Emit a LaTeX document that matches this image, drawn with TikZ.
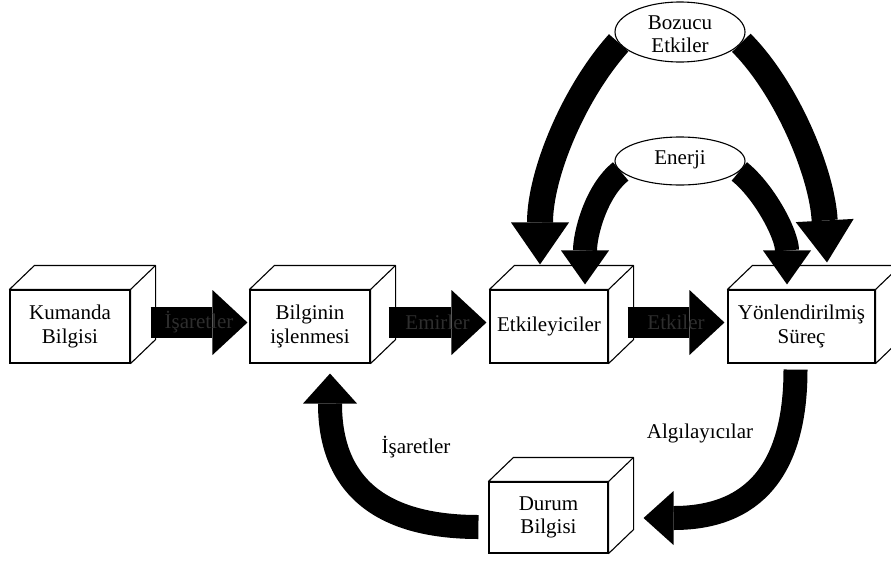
\documentclass[tikz,border=0pt]{standalone}
\usepackage{fontspec}
\setmainfont{Liberation Serif}
\usetikzlibrary{arrows.meta,shapes.geometric}
\pgfdeclarelayer{boxlayer}
\pgfdeclarelayer{arrowlayer}
\pgfsetlayers{boxlayer,arrowlayer,main}
\tikzset{
  boxfront/.style={draw, fill=white, line width=1.1pt, inner sep=0pt, align=center,
    font=\fontsize{21}{23.5}\selectfont, minimum height=73pt},
  boxside/.style={draw, fill=white, line width=1.1pt, line join=round},
  oval/.style={draw, ellipse, fill=white, line width=1.1pt, inner sep=0pt},
  lbl/.style={font=\fontsize{21}{23.5}\selectfont, align=center, inner sep=0pt},
  hlbl/.style={font=\fontsize{21}{23.5}\selectfont, inner sep=0pt, text=black!82},
  harrow/.style={draw=black, line width=31pt, -{Triangle[width=65pt,length=35pt,line width=0pt]}},
  barrow/.style={draw=black, line width=26pt, -{Triangle[width=58pt,length=42pt,line width=0pt]}},
  earrow/.style={draw=black, line width=24pt, -{Triangle[width=48pt,length=34pt,line width=0pt]}},
  larrow/.style={draw=black, line width=24pt, -{Triangle[width=54pt,length=30pt,line width=0pt]}}
}
\begin{document}
\begin{tikzpicture}[x=1pt,y=-1pt]
\useasboundingbox (0,0) rectangle (891,563);

\begin{pgfonlayer}{boxlayer}
\fill[white] (0,0) rectangle (891,563);
\node[boxfront, minimum width=120pt] (kb) at (70,326.5) {Kumanda\\Bilgisi};
\node[boxfront, minimum width=120pt] (bi) at (310,326.5) {Bilginin\\işlenmesi};
\node[boxfront, minimum width=118pt] (et) at (549,326.5) {Etkileyiciler};
\node[boxfront, minimum width=147pt] (ys) at (801.5,326.5) {Yönlendirilmiş\\Süreç};
\node[boxfront, minimum width=119pt, minimum height=71pt] (db) at (548.5,517.5) {Durum\\Bilgisi};
\foreach \n in {kb,bi,et,ys,db}{
  \draw[boxside] (\n.north west) -- ([shift={(25,-24)}]\n.north west)
     -- ([shift={(25,-24)}]\n.north east) -- ([shift={(25,-24)}]\n.south east)
     -- (\n.south east) -- (\n.north east) -- cycle;
  \draw[boxside] (\n.north east) -- ([shift={(25,-24)}]\n.north east);
}
\end{pgfonlayer}

\node[oval, minimum width=130pt, minimum height=60pt] (bz) at (680,32) {};
\node[lbl] (bzt) at (680,34) {Bozucu\\Etkiler};
\node[oval, minimum width=130pt, minimum height=48pt] (en) at (680,161) {};
\node[lbl] (ent) at (680,160) {Enerji};

\coordinate (t1) at ([shift={(-9,-25)}]et.north);
\coordinate (t2) at ([shift={(36,-5)}]et.north);
\coordinate (t3) at ([shift={(-14.5,-5)}]ys.north);
\coordinate (t4) at ([shift={(25.5,-27)}]ys.north);
\coordinate (t5) at ([shift={(35,0.5)}]db.east);
\coordinate (t6) at ([shift={(20,10)}]bi.south);
\coordinate (s5) at ([shift={(-6,6)}]ys.south);
\coordinate (s6) at ([shift={(-10,9.5)}]db.west);

\begin{pgfonlayer}{arrowlayer}
\draw[harrow] ([shift={(20,-4)}]kb.east) -- node[hlbl] (h1) {İşaretler} ([shift={(-2,-4)}]bi.west);
\draw[harrow] ([shift={(18,-4)}]bi.east) -- node[hlbl] (h2) {Emirler} ([shift={(-3,-4)}]et.west);
\draw[harrow] ([shift={(19,-4)}]et.east) -- node[hlbl] (h3) {Etkiler} ([shift={(-3,-4)}]ys.west);

\draw[barrow] (bz.190) .. controls +(-45,50) and +(0,-90) .. (t1);
\draw[barrow] (bz.350) .. controls +(45,45) and +(-5,-90) .. (t4);
\draw[earrow] (en.190) .. controls +(-25,20) and +(0,-50) .. (t2);
\draw[earrow] (en.350) .. controls +(25,20) and +(0,-50) .. (t3);

\draw[larrow] (s5) .. controls +(0,100) and +(110,0) .. (t5);
\draw[larrow] (s6) .. controls +(-100,0) and +(0,110) .. (t6);
\end{pgfonlayer}

\node[lbl] (lisa) at (416,447) {İşaretler};
\node[lbl] (lalg) at (700,433) {Algılayıcılar};
\end{tikzpicture}
\end{document}
